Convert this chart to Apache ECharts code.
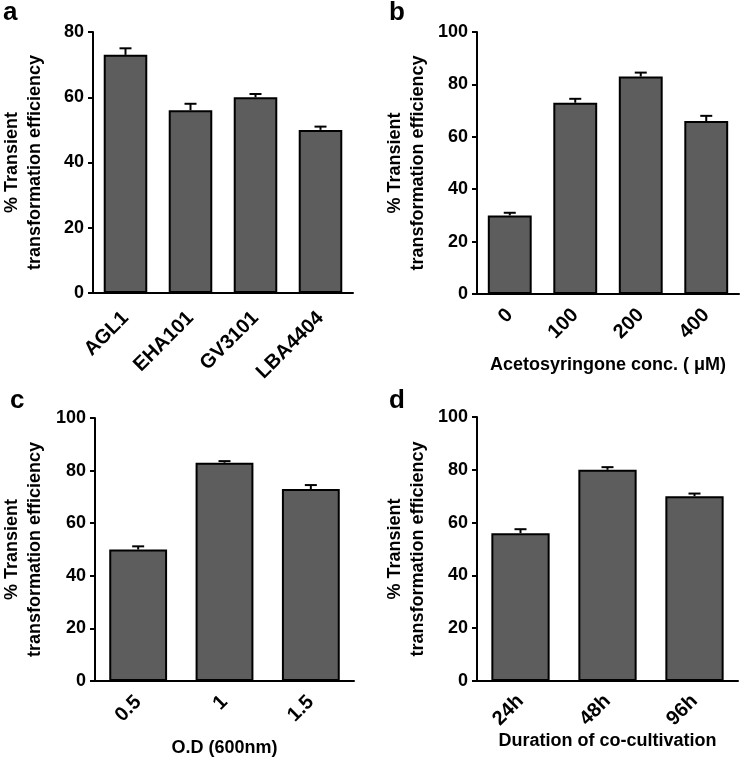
<!DOCTYPE html>
<html>
<head>
<meta charset="utf-8">
<script src="https://cdn.jsdelivr.net/npm/echarts@6/dist/echarts.min.js"></script>
<style>
  html, body { margin: 0; padding: 0; background: #fff; }
  #main { width: 742px; height: 758px; }
</style>
</head>
<body>
<div id="main"></div>
<script>
// a: strains
var strainCats = ['AGL1', 'EHA101', 'GV3101', 'LBA4404'];
var strainVals = [73, 56, 60, 50];
var strainErr = [2, 2, 1, 1];

// b: acetosyringone
var asCats = ['0', '100', '200', '400'];
var asVals = [30, 73, 83, 66];
var asErr = [1, 1.5, 1.5, 2];

// c: optical density
var odCats = ['0.5', '1', '1.5'];
var odVals = [50, 83, 73];
var odErr = [1.2, 0.6, 1.5];

// d: co-cultivation
var durCats = ['24h', '48h', '96h'];
var durVals = [56, 80, 70];
var durErr = [1.5, 1, 1];

var yTitle = '% Transient\ntransformation efficiency';
var font = '"Liberation Sans", Arial, sans-serif';

var chart = echarts.init(document.getElementById('main'));

// 误差线（只画上半部分）
function renderErr(params, api) {
    var x = api.value(0), y = api.value(1), e = api.value(2);
    var base = api.coord([x, y]);
    var top = api.coord([x, y + e]);
    var half = 6;
    return {
        type: 'group',
        children: [
            {type: 'line', shape: {x1: base[0], y1: base[1], x2: top[0], y2: top[1]}, style: {stroke: '#000', lineWidth: 2}},
            {type: 'line', shape: {x1: top[0] - half, y1: top[1], x2: top[0] + half, y2: top[1]}, style: {stroke: '#000', lineWidth: 2}}
        ]
    };
}

function xAxisFor(idx, cats, name, gap, margin) {
    return {
        type: 'category',
        gridIndex: idx,
        data: cats,
        name: name,
        nameLocation: 'middle',
        nameGap: gap,
        nameTextStyle: {fontSize: 18, fontWeight: 'bold', color: '#000', fontFamily: font},
        axisLine: {lineStyle: {color: '#000', width: 2}},
        axisTick: {alignWithLabel: true, length: 5, lineStyle: {color: '#000', width: 2}},
        axisLabel: {rotate: 45, fontSize: 20, fontWeight: 'bold', color: '#000', fontFamily: font, margin: margin, interval: 0},
        splitLine: {show: false}
    };
}

function yAxisFor(idx, max, gap) {
    return {
        type: 'value',
        gridIndex: idx,
        min: 0,
        max: max,
        interval: 20,
        name: yTitle,
        nameLocation: 'middle',
        nameGap: gap,
        nameTextStyle: {fontSize: 18, fontWeight: 'bold', color: '#000', fontFamily: font, lineHeight: 23},
        axisLine: {show: true, lineStyle: {color: '#000', width: 2}},
        axisTick: {show: true, length: 5, lineStyle: {color: '#000', width: 2}},
        axisLabel: {fontSize: 18, fontWeight: 'bold', color: '#000', fontFamily: font, margin: 9},
        splitLine: {show: false}
    };
}

function barSeries(idx, vals) {
    return {
        type: 'bar',
        xAxisIndex: idx,
        yAxisIndex: idx,
        data: vals,
        barCategoryGap: '33%',
        itemStyle: {color: '#5d5d5d', borderColor: '#000', borderWidth: 2},
        silent: true
    };
}

function errSeries(idx, vals, errs) {
    var d = vals.map(function (v, i) { return [i, v, errs[i]]; });
    return {
        type: 'custom',
        xAxisIndex: idx,
        yAxisIndex: idx,
        renderItem: renderErr,
        data: d,
        z: 5,
        silent: true
    };
}

function panelLabel(t, x, y) {
    return {
        type: 'text',
        left: x,
        top: y,
        style: {text: t, fontSize: 26, fontWeight: 'bold', fill: '#000', font: 'bold 26px ' + font}
    };
}

var option = {
    animation: false,
    backgroundColor: '#fff',
    grid: [
        {left: 92, top: 32, width: 261, height: 261},
        {left: 477, top: 32, width: 262, height: 262},
        {left: 93, top: 418, width: 261, height: 263},
        {left: 477, top: 417, width: 261, height: 264}
    ],
    xAxis: [
        xAxisFor(0, strainCats, '', 0, 22),
        xAxisFor(1, asCats, 'Acetosyringone conc. ( \u03bcM)', 62, 18),
        xAxisFor(2, odCats, 'O.D (600nm)', 58, 18),
        xAxisFor(3, durCats, 'Duration of co-cultivation', 50, 17)
    ],
    yAxis: [
        yAxisFor(0, 80, 46),
        yAxisFor(1, 100, 47),
        yAxisFor(2, 100, 48),
        yAxisFor(3, 100, 47)
    ],
    series: [
        barSeries(0, strainVals), errSeries(0, strainVals, strainErr),
        barSeries(1, asVals), errSeries(1, asVals, asErr),
        barSeries(2, odVals), errSeries(2, odVals, odErr),
        barSeries(3, durVals), errSeries(3, durVals, durErr)
    ],
    graphic: [
        panelLabel('a', 3, 0),
        panelLabel('b', 389, 0),
        panelLabel('c', 10, 388),
        panelLabel('d', 389, 388)
    ]
};

chart.setOption(option);
</script>
</body>
</html>
